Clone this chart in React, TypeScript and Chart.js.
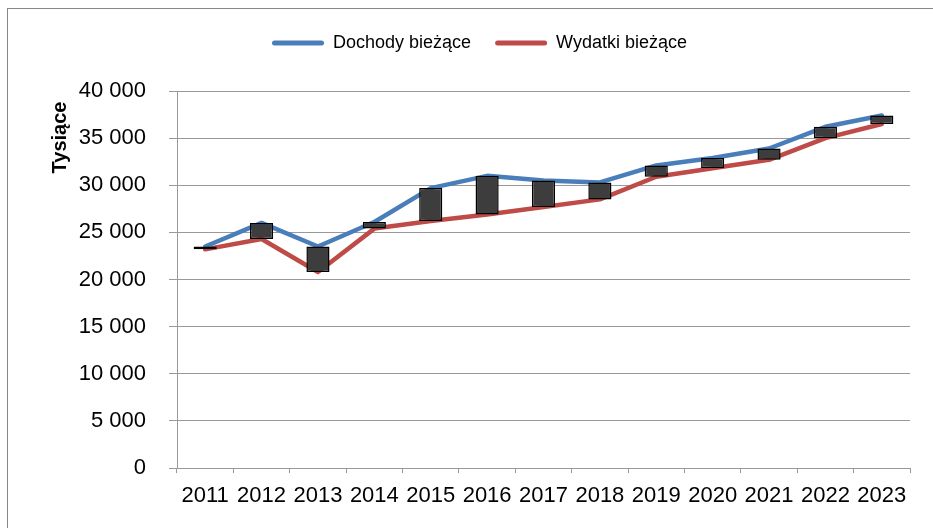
import React, { useEffect, useRef } from 'react';
import { Chart, registerables } from 'chart.js';

Chart.register(...registerables);

const years = ['2011', '2012', '2013', '2014', '2015', '2016', '2017', '2018', '2019', '2020', '2021', '2022', '2023'];
const dochody = [23500, 26000, 23500, 26100, 29700, 31000, 30500, 30300, 32100, 32900, 33900, 36200, 37400];
const wydatki = [23200, 24300, 20800, 25400, 26200, 26900, 27700, 28500, 30900, 31800, 32700, 35000, 36500];
const seriesNames = ['Dochody bieżące', 'Wydatki bieżące'];
const yAxisTitle = 'Tysiące';
const yMin = 0;
const yMax = 40000;
const yStep = 5000;

const fmt = (v: number) => String(v).replace(/\B(?=(\d{3})+(?!\d))/g, ' ');

export default function App() {
  const ref = useRef<HTMLCanvasElement>(null);

  useEffect(() => {
    if (!ref.current) return;
    const FONT = "'Liberation Sans', Arial, sans-serif";

    const legendSpacer = {
      id: 'legendSpacer',
      beforeLayout(chart: any) {
        const lg = chart.legend;
        if (lg && !lg._patched) {
          const orig = lg.fit;
          lg.fit = function () {
            orig.call(this);
            this.height += 29;
          };
          lg._patched = true;
        }
      },
    };

    const yTitle = {
      id: 'yTitle',
      afterDraw(chart: any) {
        const ctx = chart.ctx;
        ctx.save();
        ctx.translate(65.5, 137.5);
        ctx.rotate(-Math.PI / 2);
        ctx.font = `bold 20px ${FONT}`;
        ctx.fillStyle = '#000';
        ctx.textAlign = 'center';
        ctx.textBaseline = 'alphabetic';
        ctx.fillText(yAxisTitle, 0, 0);
        ctx.restore();
      },
    };

    const chart = new Chart(ref.current, {
      type: 'bar',
      data: {
        labels: years,
        datasets: [
          {
            type: 'bar',
            label: 'diff',
            data: years.map((_, i) => [wydatki[i], dochody[i]]) as any,
            backgroundColor: '#3d3d3d',
            borderColor: '#000000',
            borderWidth: 1.5,
            borderSkipped: false,
            barPercentage: 0.41,
            categoryPercentage: 1,
            order: 0,
          } as any,
          {
            type: 'line',
            label: seriesNames[0],
            data: dochody,
            borderColor: '#4A7EBB',
            backgroundColor: '#4A7EBB',
            borderWidth: 4.5,
            pointRadius: 0,
            tension: 0,
            borderCapStyle: 'round',
            borderJoinStyle: 'round',
            order: 1,
          } as any,
          {
            type: 'line',
            label: seriesNames[1],
            data: wydatki,
            borderColor: '#BE4B48',
            backgroundColor: '#BE4B48',
            borderWidth: 4.5,
            pointRadius: 0,
            tension: 0,
            borderCapStyle: 'round',
            borderJoinStyle: 'round',
            order: 2,
          } as any,
        ],
      },
      options: {
        responsive: false,
        animation: false,
        layout: { padding: { left: 49, right: 23, top: 10, bottom: 0 } },
        plugins: {
          tooltip: { enabled: false },
          legend: {
            position: 'top',
            labels: {
              color: '#000',
              font: { family: FONT, size: 18 },
              padding: 24,
              boxWidth: 52,
              boxHeight: 5,
              useBorderRadius: true,
              borderRadius: 2.5,
              generateLabels: (c: any) =>
                (Chart.defaults.plugins.legend.labels.generateLabels as any)(c)
                  .filter((l: any) => l.datasetIndex !== 0)
                  .map((l: any) => ({ ...l, lineWidth: 0 })),
            },
          },
        },
        scales: {
          x: {
            type: 'category',
            offset: true,
            afterFit: (s: any) => {
              s.height = 60;
            },
            grid: {
              display: true,
              drawOnChartArea: false,
              drawTicks: true,
              tickLength: 5,
              offset: true,
              color: '#999999',
            },
            border: { color: '#999999' },
            ticks: {
              color: '#000',
              font: { family: FONT, size: 22 },
              padding: 10,
              maxRotation: 0,
              autoSkip: false,
            },
          },
          y: {
            min: yMin,
            max: yMax,
            afterFit: (s: any) => {
              s.width = 128;
            },
            grid: { color: '#999999', tickLength: 8, drawTicks: true },
            border: { color: '#999999' },
            ticks: {
              stepSize: yStep,
              color: '#000',
              font: { family: FONT, size: 22 },
              padding: 23,
              callback: (v: any) => fmt(Number(v)),
            },
          },
        },
      } as any,
      plugins: [legendSpacer, yTitle],
    });

    return () => chart.destroy();
  }, []);

  return (
    <div style={{ position: 'absolute', left: 0, top: 0, width: 933, height: 528, overflow: 'hidden', background: '#fff' }}>
      <div
        style={{
          position: 'absolute',
          left: 7,
          top: 8,
          width: 1000,
          height: 600,
          border: '1px solid #878787',
          boxSizing: 'border-box',
        }}
      />
      <canvas ref={ref} width={933} height={528} style={{ position: 'absolute', left: 0, top: 0, width: 933, height: 528 }} />
    </div>
  );
}
